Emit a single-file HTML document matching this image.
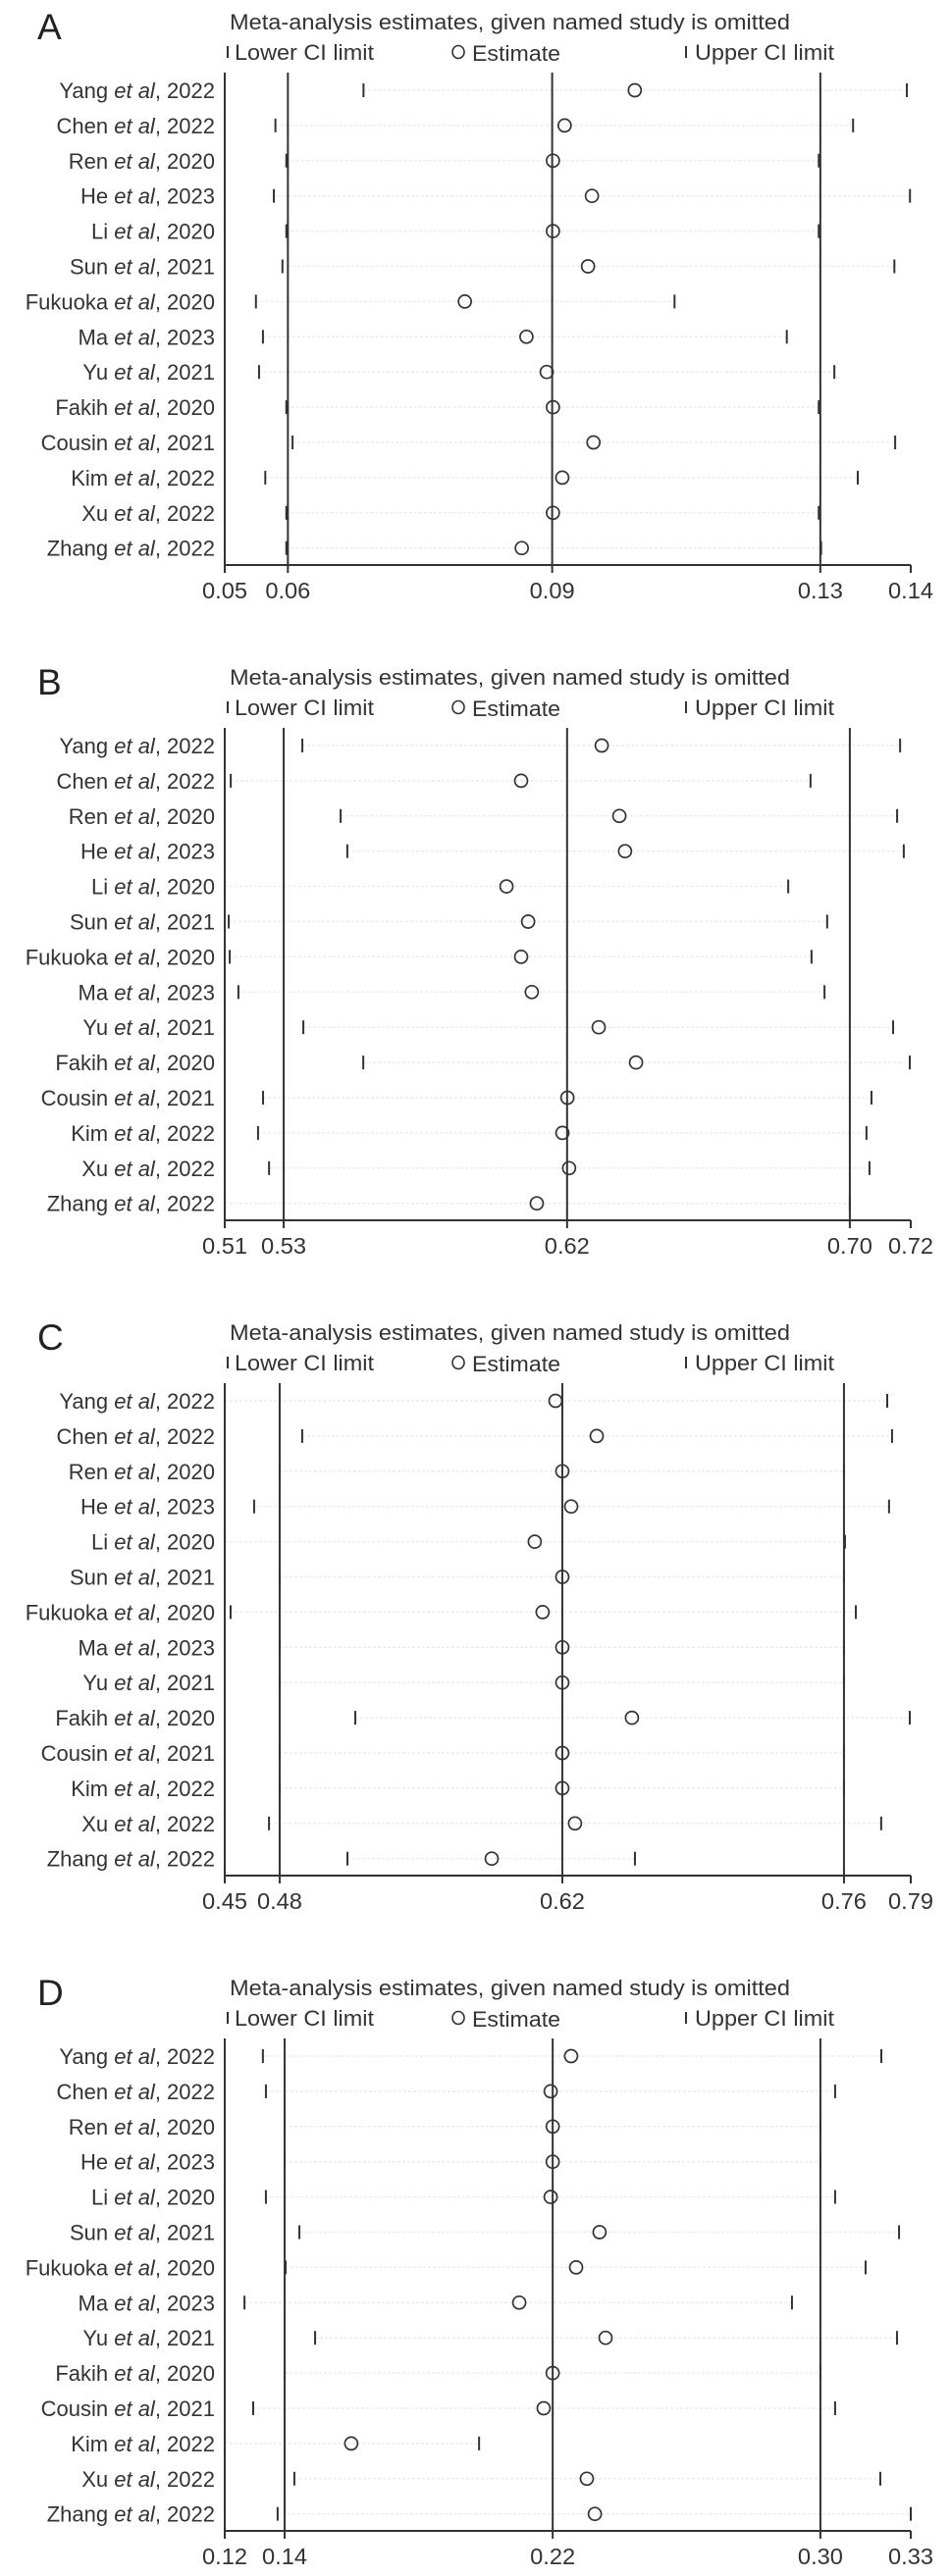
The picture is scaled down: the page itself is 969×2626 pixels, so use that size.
<!DOCTYPE html>
<html><head><meta charset="utf-8">
<style>
html,body{margin:0;padding:0;background:#fff;}
svg{display:block;font-family:"Liberation Sans",Arial,sans-serif;}
</style></head>
<body>
<svg id="fig" width="969" height="2626" viewBox="0 0 969 2626" xmlns="http://www.w3.org/2000/svg"></svg>
<script>
const studies = ["Yang","Chen","Ren","He","Li","Sun","Fukuoka","Ma","Yu","Fakih","Cousin","Kim","Xu","Zhang"];
const years = ["2022","2022","2020","2023","2020","2021","2020","2023","2021","2020","2021","2022","2022","2022"];
const panelLetters = ["A","B","C","D"];

// Panel A
const aMin = 0.050, aMax = 0.138;
const aTicks = [0.050, 0.0581, 0.0920, 0.1264, 0.138];
const aTickLabels = ["0.05","0.06","0.09","0.13","0.14"];
const aLower = [0.0678,0.0565,0.0579,0.0563,0.0579,0.0574,0.0540,0.0549,0.0544,0.0579,0.0587,0.0552,0.0579,0.0579];
const aEst   = [0.1026,0.0936,0.0921,0.0971,0.0921,0.0966,0.0808,0.0887,0.0913,0.0921,0.0973,0.0933,0.0921,0.0881];
const aUpper = [0.1375,0.1306,0.1262,0.1379,0.1262,0.1359,0.1077,0.1221,0.1282,0.1262,0.1360,0.1312,0.1262,0.1265];

// Panel B
const bMin = 0.514, bMax = 0.720;
const bTicks = [0.514, 0.5317, 0.6168, 0.7017, 0.720];
const bTickLabels = ["0.51","0.53","0.62","0.70","0.72"];
const bLower = [0.5373,0.5158,0.5488,0.5508,0.5140,0.5152,0.5155,0.5181,0.5376,0.5556,0.5255,0.5240,0.5273,0.5140];
const bEst   = [0.6272,0.6030,0.6325,0.6342,0.5986,0.6051,0.6030,0.6062,0.6263,0.6375,0.6169,0.6154,0.6174,0.6077];
const bUpper = [0.7168,0.6899,0.7159,0.7179,0.6832,0.6949,0.6902,0.6941,0.7147,0.7197,0.7082,0.7067,0.7076,0.7017];

// Panel C
const cMin = 0.4522, cMax = 0.7932;
const cTicks = [0.4522, 0.4795, 0.6200, 0.7600, 0.7932];
const cTickLabels = ["0.45","0.48","0.62","0.76","0.79"];
const cLower = [0.4522,0.4907,0.4795,0.4668,0.4522,0.4795,0.4551,0.4795,0.4795,0.5171,0.4795,0.4795,0.4742,0.5132];
const cEst   = [0.6166,0.6371,0.6200,0.6244,0.6063,0.6200,0.6102,0.6200,0.6200,0.6546,0.6200,0.6200,0.6263,0.5849];
const cUpper = [0.7815,0.7839,0.7600,0.7824,0.7605,0.7600,0.7659,0.7600,0.7600,0.7927,0.7600,0.7600,0.7785,0.6561];

// Panel D
const dMin = 0.122, dMax = 0.327;
const dTicks = [0.122, 0.1399, 0.2200, 0.3000, 0.327];
const dTickLabels = ["0.12","0.14","0.22","0.30","0.33"];
const dLower = [0.1334,0.1343,0.1399,0.1399,0.1343,0.1443,0.1402,0.1279,0.1490,0.1399,0.1305,0.1220,0.1428,0.1378];
const dEst   = [0.2255,0.2194,0.2200,0.2200,0.2194,0.2340,0.2270,0.2100,0.2358,0.2200,0.2173,0.1598,0.2302,0.2326];
const dUpper = [0.3182,0.3044,0.3000,0.3000,0.3044,0.3235,0.3135,0.2915,0.3229,0.3000,0.3044,0.1980,0.3179,0.3270];

const panels = [
  {min:aMin,max:aMax,ticks:aTicks,labels:aTickLabels,lo:aLower,est:aEst,up:aUpper},
  {min:bMin,max:bMax,ticks:bTicks,labels:bTickLabels,lo:bLower,est:bEst,up:bUpper},
  {min:cMin,max:cMax,ticks:cTicks,labels:cTickLabels,lo:cLower,est:cEst,up:cUpper},
  {min:dMin,max:dMax,ticks:dTicks,labels:dTickLabels,lo:dLower,est:dEst,up:dUpper}
];

const NS = "http://www.w3.org/2000/svg";
const svg = document.getElementById("fig");
function mk(tag, attrs, parent){
  const e = document.createElementNS(NS, tag);
  for (const k in attrs) e.setAttribute(k, attrs[k]);
  (parent||svg).appendChild(e);
  return e;
}
const X0 = 229, X1 = 928, ROW0 = 92, ROWH = 35.9, AXY = 576, TOPY = 74, INK = "#333";

panels.forEach((p, pi) => {
  const o = pi * 668;
  const g = mk("g", {});
  
  
  const xs = v => X0 + (v - p.min) / (p.max - p.min) * (X1 - X0);

  const letter = mk("text", {x:38, y:o+40, "font-size":37, fill:"#222"}, g);
  letter.textContent = panelLetters[pi];
  
  

  const title = mk("text", {x:234, y:o+30, "font-size":22, fill:"#333", textLength:571, lengthAdjust:"spacingAndGlyphs"}, g);
  title.textContent = "Meta-analysis estimates, given named study is omitted";
  
  

  const lg = mk("g", {}, g);
  
  
  mk("line", {x1:232, x2:232, y1:o+47, y2:o+59, stroke:INK, "stroke-width":2}, lg);
  const t1 = mk("text", {x:239, y:o+61, "font-size":22, fill:"#333", textLength:142, lengthAdjust:"spacingAndGlyphs"}, lg);
  t1.textContent = "Lower CI limit";
  
  
  mk("ellipse", {cx:467, cy:o+53, rx:6, ry:6.5, fill:"none", stroke:INK, "stroke-width":1.6}, lg);
  const t2 = mk("text", {x:481, y:o+62, "font-size":22, fill:"#333", textLength:90, lengthAdjust:"spacingAndGlyphs"}, lg);
  t2.textContent = "Estimate";
  
  
  mk("line", {x1:699, x2:699, y1:o+47, y2:o+59, stroke:INK, "stroke-width":2}, lg);
  const t3 = mk("text", {x:708, y:o+61, "font-size":22, fill:"#333", textLength:142, lengthAdjust:"spacingAndGlyphs"}, lg);
  t3.textContent = "Upper CI limit";
  
  

  studies.forEach((s, i) => {
    const y = o + ROW0 + i*ROWH;
    const gl = mk("line", {x1:xs(p.lo[i]), x2:xs(p.up[i]), y1:y, y2:y, stroke:"#ececec", "stroke-width":1.5, "stroke-dasharray":"3 2"}, g);
    
    
  });

  const ya = mk("line", {x1:X0, x2:X0, y1:o+TOPY, y2:o+AXY, stroke:INK, "stroke-width":2}, g);
  
  
  const xa = mk("line", {x1:X0, x2:X1, y1:o+AXY, y2:o+AXY, stroke:INK, "stroke-width":2}, g);
  
  
  p.ticks.forEach((t, ti) => {
    const x = xs(t);
    mk("line", {x1:x, x2:x, y1:o+AXY, y2:o+AXY+8, stroke:INK, "stroke-width":2}, g);
    if (ti >= 1 && ti <= 3) {
      const rl = mk("line", {x1:x, x2:x, y1:o+TOPY, y2:o+AXY, stroke:INK, "stroke-width":2}, g);
      
      
    }
    const tl = mk("text", {x:x, y:o+AXY+34, "font-size":23, fill:"#333", "text-anchor":"middle", textLength:46, lengthAdjust:"spacingAndGlyphs"}, g);
    tl.textContent = p.labels[ti];
    
    
  });

  studies.forEach((s, i) => {
    const y = o + ROW0 + i*ROWH;
    const lab = mk("text", {x:219, y:y+8, "font-size":22, fill:"#333", "text-anchor":"end"}, g);
    
    
    const a = document.createElementNS(NS, "tspan"); a.textContent = s + " "; lab.appendChild(a);
    const b = document.createElementNS(NS, "tspan"); b.setAttribute("font-style","italic"); b.textContent = "et al"; lab.appendChild(b);
    const c = document.createElementNS(NS, "tspan"); c.textContent = ", " + years[i]; lab.appendChild(c);

    const lo = mk("line", {x1:xs(p.lo[i]), x2:xs(p.lo[i]), y1:y-7, y2:y+7, stroke:INK, "stroke-width":2}, g);
    
    
    const up = mk("line", {x1:xs(p.up[i]), x2:xs(p.up[i]), y1:y-7, y2:y+7, stroke:INK, "stroke-width":2}, g);
    
    
    const es = mk("ellipse", {cx:xs(p.est[i]), cy:y, rx:6.5, ry:6.5, fill:"none", stroke:INK, "stroke-width":1.7}, g);
    
    
  });
});
</script>
</body></html>
